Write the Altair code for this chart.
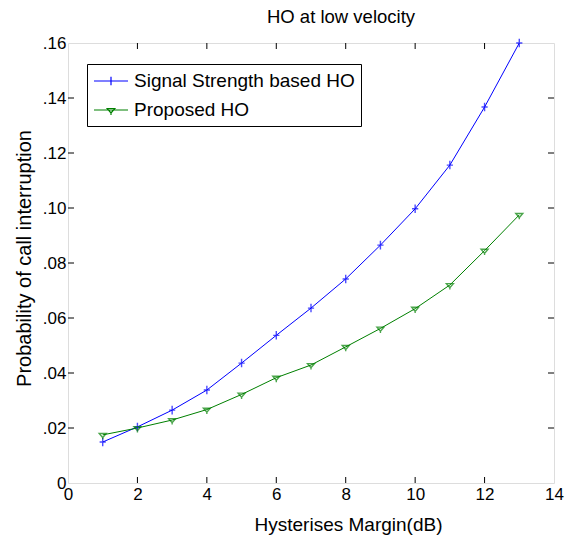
import altair as alt
import pandas as pd

# Hysteresis margin (dB) and probability of call interruption per scheme
margin_db = [1, 2, 3, 4, 5, 6, 7, 8, 9, 10, 11, 12, 13]
signal_strength_ho = [0.0149, 0.0204, 0.0265, 0.0338, 0.0436, 0.0537, 0.0636,
                      0.0742, 0.0865, 0.0997, 0.1156, 0.1367, 0.1600]
proposed_ho = [0.0175, 0.0200, 0.0229, 0.0267, 0.0322, 0.0383, 0.0429,
               0.0495, 0.0562, 0.0634, 0.0720, 0.0845, 0.0975]

series_names = ["Signal Strength based HO", "Proposed HO"]
series_colors = ["#0000ff", "#008000"]

x_ticks = [0, 2, 4, 6, 8, 10, 12, 14]
y_ticks = [0, 0.02, 0.04, 0.06, 0.08, 0.10, 0.12, 0.14, 0.16]

df = pd.DataFrame({
    "margin": margin_db * 2,
    "prob": signal_strength_ho + proposed_ho,
    "series": [series_names[0]] * len(margin_db) + [series_names[1]] * len(margin_db),
})
x_tick_df = pd.DataFrame({"margin": x_ticks[1:-1]})
y_tick_df = pd.DataFrame({"prob": y_ticks[1:-1]})

FONT = "Liberation Sans"
W, H = 486, 440
TICK = 6

# plot markers: plus for the signal-strength scheme, open down-triangle for the proposed one
marker_paths = [
    "M-0.8,0L0.8,0M0,-1.1L0,1.1",
    "M-0.9,-0.35L0.9,-0.35L0,0.7ZM0,0.7L0,1.15",
]
# legend glyphs: a line segment through the marker (drawn wider than the symbol slot)
legend_paths = [
    "M-1.7,0L1.7,0M0,-0.42L0,0.42",
    "M-1.7,0L1.7,0M-0.38,-0.15L0.38,-0.15L0,0.3ZM0,0.3L0,0.5",
]

x_scale = alt.Scale(domain=[0, 14], nice=False, zero=False)
y_scale = alt.Scale(domain=[0, 0.16], nice=False)

x_axis = alt.Axis(
    values=x_ticks, ticks=False, domain=False, grid=False,
    labelFont=FONT, labelFontSize=17, labelColor="black", labelPadding=3,
    labelFlush=False,
    title="Hysterises Margin(dB)", titleFont=FONT, titleFontSize=19,
    titleFontWeight="normal", titleColor="black",
    titleX=280, titleY=41, titleAlign="center", titleBaseline="middle",
)
y_axis = alt.Axis(
    values=y_ticks, ticks=False, domain=False, grid=False,
    labelExpr="datum.value == 0 ? '0' : replace(format(datum.value, '.2f'), '0.', '.')",
    labelFont=FONT, labelFontSize=17, labelColor="black", labelPadding=2,
    labelFlush=False,
    title="Probability of call interruption", titleFont=FONT, titleFontSize=20,
    titleFontWeight="normal", titleColor="black",
    titleX=-44, titleY=215, titleAlign="center", titleBaseline="middle", titleAngle=270,
)

X = alt.X("margin:Q", scale=x_scale, axis=x_axis)
Y = alt.Y("prob:Q", scale=y_scale, axis=y_axis)
color_scale = alt.Scale(domain=series_names, range=series_colors)

base = alt.Chart(df).encode(x=X, y=Y)

lines = base.mark_line(strokeWidth=1).encode(
    color=alt.Color("series:N", scale=color_scale, legend=None)
)

markers = base.mark_point(filled=False, strokeWidth=1.4, size=60).encode(
    color=alt.Color("series:N", scale=color_scale, legend=None),
    shape=alt.Shape("series:N", scale=alt.Scale(domain=series_names, range=marker_paths),
                    legend=None),
)

legend_spec = alt.Legend(
    title=None, orient="none", legendX=19, legendY=21,
    strokeColor="black", fillColor="white", padding=6, cornerRadius=0,
    labelFont=FONT, labelFontSize=19, labelColor="black", labelOffset=12,
    labelLimit=400, symbolSize=400, symbolStrokeWidth=1.2, symbolOpacity=1,
    symbolOffset=7, rowPadding=8,
)
legend_layer = base.mark_point(filled=False, opacity=0, strokeWidth=1).encode(
    color=alt.Color("series:N", scale=color_scale, legend=legend_spec),
    shape=alt.Shape("series:N", scale=alt.Scale(domain=series_names, range=legend_paths),
                    legend=legend_spec),
)

# inward-pointing ticks on all four sides of the box
tick_top = alt.Chart(x_tick_df).mark_rule(color="black", strokeWidth=1).encode(
    x=X, y=alt.value(0), y2=alt.value(TICK))
tick_bottom = alt.Chart(x_tick_df).mark_rule(color="black", strokeWidth=1).encode(
    x=X, y=alt.value(H), y2=alt.value(H - TICK))
tick_left = alt.Chart(y_tick_df).mark_rule(color="black", strokeWidth=1).encode(
    y=Y, x=alt.value(0), x2=alt.value(TICK))
tick_right = alt.Chart(y_tick_df).mark_rule(color="black", strokeWidth=1).encode(
    y=Y, x=alt.value(W), x2=alt.value(W - TICK))

chart = alt.layer(
    tick_top, tick_bottom, tick_left, tick_right, lines, markers, legend_layer
).resolve_scale(
    color="independent", shape="independent"
).properties(
    width=W, height=H,
    title=alt.TitleParams("HO at low velocity", font=FONT, fontSize=18.5,
                          fontWeight="normal", color="black", anchor="middle",
                          baseline="bottom", offset=15, dx=30, dy=26),
    autosize=alt.AutoSizeParams(type="none"),
    padding={"left": 68, "top": 43, "right": 31, "bottom": 56},
).configure_view(
    stroke="black", strokeWidth=1.5
).configure(background="white")

chart.save("out.html", embed_options={"renderer": "svg", "actions": False})
